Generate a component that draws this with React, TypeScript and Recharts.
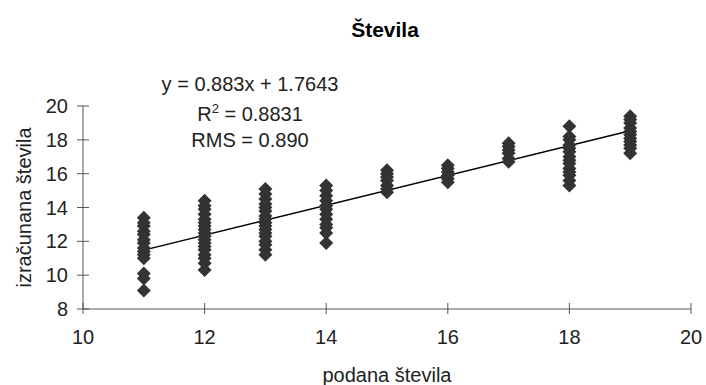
import React from 'react';
import { ScatterChart, Scatter, XAxis, YAxis, ReferenceLine } from 'recharts';

const xTicks = [10, 12, 14, 16, 18, 20];
const yTicks = [8, 10, 12, 14, 16, 18, 20];

const col11 = [13.4, 13.1, 12.9, 12.6, 12.4, 12.1, 11.9, 11.6, 11.4, 11.2, 11.0, 10.1, 9.8, 9.1];
const col12 = [14.4, 14.1, 13.9, 13.6, 13.3, 13.1, 12.9, 12.7, 12.5, 12.3, 12.1, 11.9, 11.7, 11.5, 11.2, 11.0, 10.7, 10.3];
const col13 = [15.1, 14.8, 14.5, 14.2, 14.0, 13.8, 13.5, 13.3, 13.1, 12.9, 12.7, 12.5, 12.3, 12.0, 11.8, 11.5, 11.2];
const col14 = [15.3, 15.0, 14.7, 14.4, 14.1, 13.9, 13.6, 13.3, 13.0, 12.8, 12.5, 11.9];
const col15 = [16.2, 16.0, 15.8, 15.6, 15.3, 15.1, 14.9];
const col16 = [16.5, 16.3, 16.1, 15.9, 15.7, 15.5];
const col17 = [17.8, 17.6, 17.4, 17.2, 16.9, 16.7];
const col18 = [18.8, 18.2, 18.0, 17.7, 17.5, 17.3, 17.0, 16.8, 16.6, 16.3, 16.1, 15.9, 15.6, 15.3];
const col19 = [19.4, 19.2, 19.0, 18.7, 18.5, 18.3, 18.1, 17.9, 17.7, 17.5, 17.2];

const columns: [number, number[]][] = [
  [11, col11], [12, col12], [13, col13], [14, col14], [15, col15],
  [16, col16], [17, col17], [18, col18], [19, col19],
];

const trendStart = { x: 11, y: 11.48 };
const trendEnd = { x: 19, y: 18.54 };

const points = columns.flatMap(([x, ys]) => ys.map((y) => ({ x, y })));

const FONT = "'Liberation Sans', Arial, sans-serif";
const AXIS_COLOR = '#555';
const TEXT_COLOR = '#222';

const Diamond = (props: any) => {
  const { cx, cy } = props;
  if (cx == null || cy == null) return null;
  const r = 7;
  return (
    <polygon
      points={`${cx},${cy - r} ${cx + r},${cy} ${cx},${cy + r} ${cx - r},${cy}`}
      fill="#333333"
    />
  );
};

const YTick = (props: any) => {
  const { x, y, payload } = props;
  return (
    <g>
      <line x1={x - 6} x2={x + 6} y1={y} y2={y} stroke={AXIS_COLOR} strokeWidth={1} />
      <text x={x - 15} y={y} dy="0.35em" textAnchor="end" fontSize={20} fontFamily={FONT} fill={TEXT_COLOR}>
        {payload.value}
      </text>
    </g>
  );
};

const XTick = (props: any) => {
  const { x, y, payload } = props;
  return (
    <g>
      <line x1={x} x2={x} y1={y - 6} y2={y + 5} stroke={AXIS_COLOR} strokeWidth={1} />
      <text x={x} y={y + 28} dy="0.35em" textAnchor="middle" fontSize={20} fontFamily={FONT} fill={TEXT_COLOR}>
        {payload.value}
      </text>
    </g>
  );
};

const YLabel = (props: any) => {
  const vb = props.viewBox || {};
  const cy = vb.y + vb.height / 2;
  const cx = 24;
  return (
    <text
      x={cx}
      y={cy}
      transform={`rotate(-90, ${cx}, ${cy})`}
      textAnchor="middle"
      dominantBaseline="central"
      fontSize={20}
      fontFamily={FONT}
      fill={TEXT_COLOR}
    >
      izračunana števila
    </text>
  );
};

const XLabel = (props: any) => {
  const vb = props.viewBox || {};
  const cx = vb.x + vb.width / 2;
  return (
    <text x={cx} y={375} dy="0.35em" textAnchor="middle" fontSize={20} fontFamily={FONT} fill={TEXT_COLOR}>
      podana števila
    </text>
  );
};

const textLine = (top: number, content: React.ReactNode, extra: React.CSSProperties = {}) => (
  <div
    style={{
      position: 'absolute',
      left: 100,
      width: 300,
      top,
      textAlign: 'center',
      fontFamily: FONT,
      fontSize: 20,
      lineHeight: '24px',
      color: TEXT_COLOR,
      whiteSpace: 'nowrap',
      ...extra,
    }}
  >
    {content}
  </div>
);

export default function App() {
  return (
    <div style={{ position: 'absolute', left: 0, top: 0, width: 706, height: 385, background: '#fff' }}>
      <ScatterChart width={706} height={385} margin={{ top: 106, right: 15, bottom: 0, left: 0 }}>
        <XAxis
          type="number"
          dataKey="x"
          domain={[10, 20]}
          ticks={xTicks}
          interval={0}
          height={76}
          tickSize={0}
          tickMargin={0}
          tickLine={false}
          axisLine={{ stroke: AXIS_COLOR, strokeWidth: 1 }}
          tick={<XTick />}
          label={<XLabel />}
        />
        <YAxis
          type="number"
          dataKey="y"
          domain={[8, 20]}
          ticks={yTicks}
          interval={0}
          width={83}
          tickSize={0}
          tickMargin={0}
          tickLine={false}
          axisLine={{ stroke: AXIS_COLOR, strokeWidth: 1 }}
          tick={<YTick />}
          label={<YLabel />}
        />
        <Scatter data={points} shape={<Diamond />} isAnimationActive={false} />
        <ReferenceLine
          segment={[trendStart, trendEnd]}
          stroke="#000"
          strokeWidth={1.5}
        />
      </ScatterChart>
      <div
        style={{
          position: 'absolute',
          left: 235,
          width: 300,
          top: 18,
          textAlign: 'center',
          fontFamily: FONT,
          fontSize: 21,
          fontWeight: 'bold',
          lineHeight: '24px',
          color: '#000',
        }}
      >
        Števila
      </div>
      {textLine(72, 'y = 0.883x + 1.7643')}
      {textLine(102, <span>R<sup style={{ fontSize: 13, verticalAlign: 'top', lineHeight: '14px' }}>2</sup> = 0.8831</span>)}
      {textLine(128, 'RMS = 0.890')}
    </div>
  );
}
